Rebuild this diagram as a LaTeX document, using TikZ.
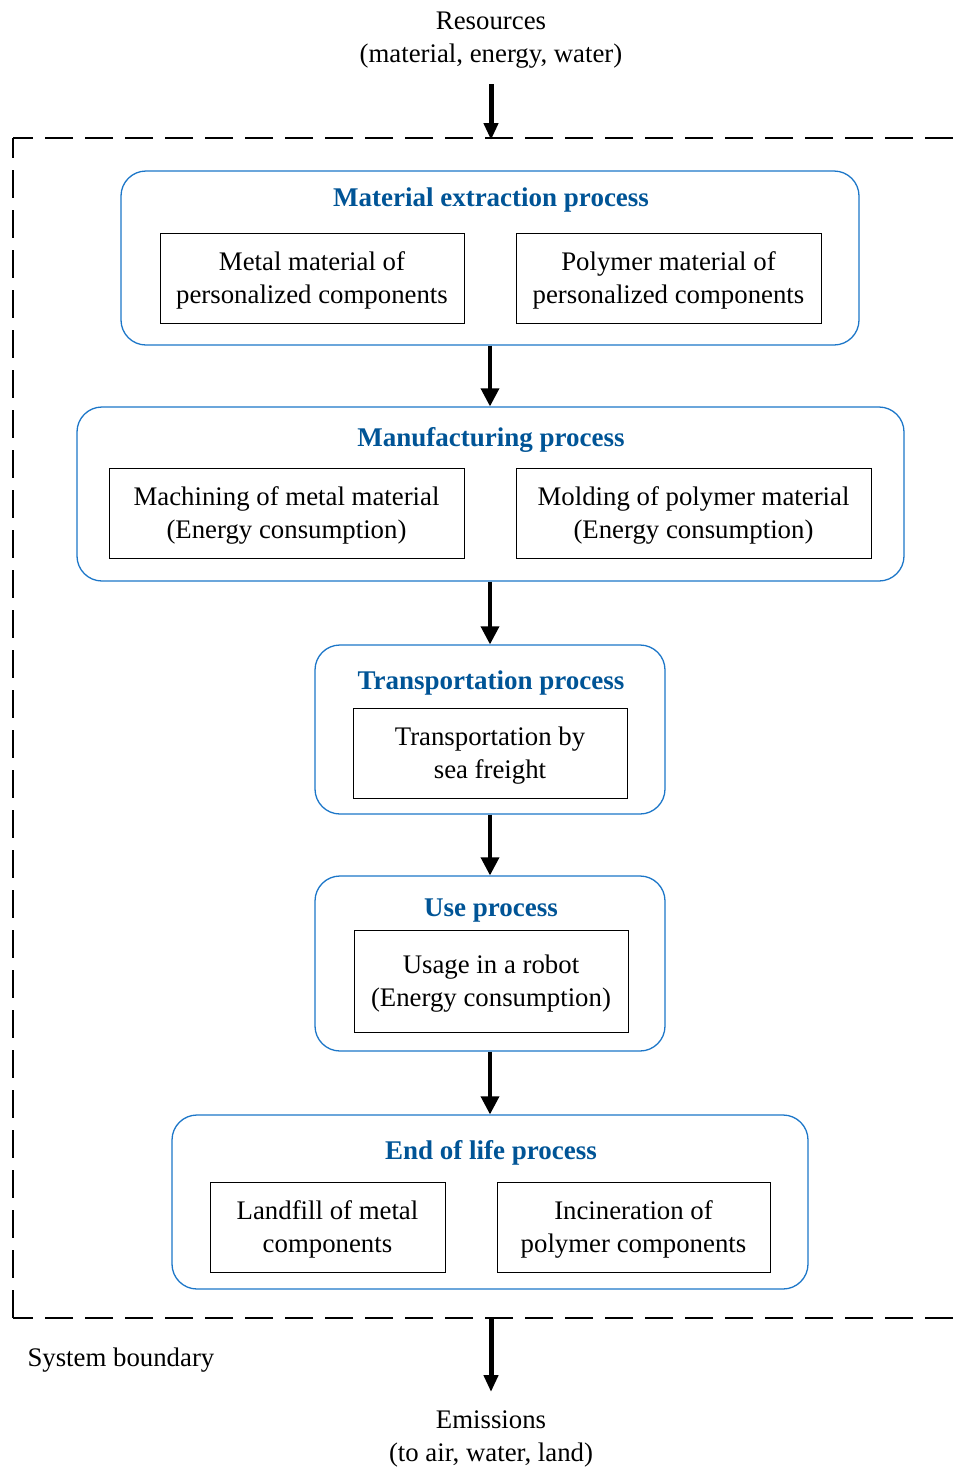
\documentclass[tikz,border=0pt]{standalone}
\usepackage{fontspec}
\setmainfont{Liberation Serif}
\usetikzlibrary{arrows.meta}

\definecolor{titleblue}{RGB}{0,84,150}
\definecolor{groupblue}{RGB}{28,118,200}

\tikzset{every picture/.style={line width=1pt}}
\tikzset{
  group/.style={draw=groupblue, line width=1.3pt, rounded corners=25pt},
  title/.style={text=titleblue, font=\fontsize{27}{33}\selectfont\bfseries, inner sep=0pt, text depth=0pt},
  item/.style={draw=black, line width=1pt, align=center, font=\fontsize{26.8}{33}\selectfont, minimum height=90pt, text depth=0pt},
  plain/.style={align=center, font=\fontsize{26.8}{33}\selectfont, inner sep=0pt, text depth=0pt},
  flow/.style={-{Triangle[width=18pt,length=18pt]}, line width=3.5pt},
  bigflow/.style={-{Triangle[width=14pt,length=17pt]}, line width=5pt},
  boundary/.style={line width=2pt, dash pattern=on 28pt off 12pt, dash phase=8pt}
}

\begin{document}
\begin{tikzpicture}[x=1pt,y=1pt,yscale=-1,xscale=1]
\path[use as bounding box] (0,0) rectangle (958,1468);

%System boundary
\draw[boundary] (13,138) -- (958,138) ;
\draw[boundary] (13,138) -- (13,1318) ;
\draw[boundary] (13,1318) -- (958,1318) ;

% Inputs and outputs
\node[plain] (res) at (491,37) {Resources\\(material, energy, water)};
\node[plain] (emis) at (491,1436) {Emissions\\(to air, water, land)};
\node[plain, anchor=west] (sysb) at (27,1357) {System boundary};
\coordinate (resend) at (491,84);
\coordinate (bndtop) at (491,140);
\coordinate (bndbot) at (491,1318);
\coordinate (emisend) at (491,1392);

% Material extraction
\node[group, minimum width=738pt, minimum height=174pt] (g1) at (490,258) {};
\node[title] (t1) at (491,197) {Material extraction process};
\node[item, minimum width=304pt] (b11) at (312,278) {Metal material of\\personalized components};
\node[item, minimum width=305pt] (b12) at (668.5,278) {Polymer material of\\personalized components};

% Manufacturing
\node[group, minimum width=827pt, minimum height=174pt] (g2) at (490.5,494) {};
\node[title] (t2) at (491,437) {Manufacturing process};
\node[item, minimum width=355pt] (b21) at (286.5,513) {Machining of metal material\\(Energy consumption)};
\node[item, minimum width=355pt] (b22) at (693.5,513) {Molding of polymer material\\(Energy consumption)};

% Transportation
\node[group, minimum width=350pt, minimum height=169pt] (g3) at (490,729.5) {};
\node[title] (t3) at (491,680) {Transportation process};
\node[item, minimum width=274pt] (b3) at (490,753) {Transportation by\\sea freight};

% Use
\node[group, minimum width=350pt, minimum height=175pt] (g4) at (490,963.5) {};
\node[title] (t4) at (491,908) {Use process};
\node[item, minimum width=274pt, minimum height=102pt] (b4) at (491,981) {Usage in a robot\\(Energy consumption)};

% End of life
\node[group, minimum width=636pt, minimum height=174pt] (g5) at (490,1202) {};
\node[title] (t5) at (491,1150) {End of life process};
\node[item, minimum width=235pt] (b51) at (327.5,1227) {Landfill of metal\\components};
\node[item, minimum width=273pt] (b52) at (633.5,1227) {Incineration of\\polymer components};

% Arrows
\draw[bigflow] (resend) -- (bndtop) ;
\draw[flow] (g1.south) -- (g1.south |- g2.north) ;
\draw[flow] (g2.south -| g3.north) -- (g3.north) ;
\draw[flow] (g3.south) -- (g4.north) ;
\draw[flow] (g4.south) -- (g5.north) ;
\draw[bigflow] (bndbot) -- (emisend) ;

\end{tikzpicture}
\end{document}
